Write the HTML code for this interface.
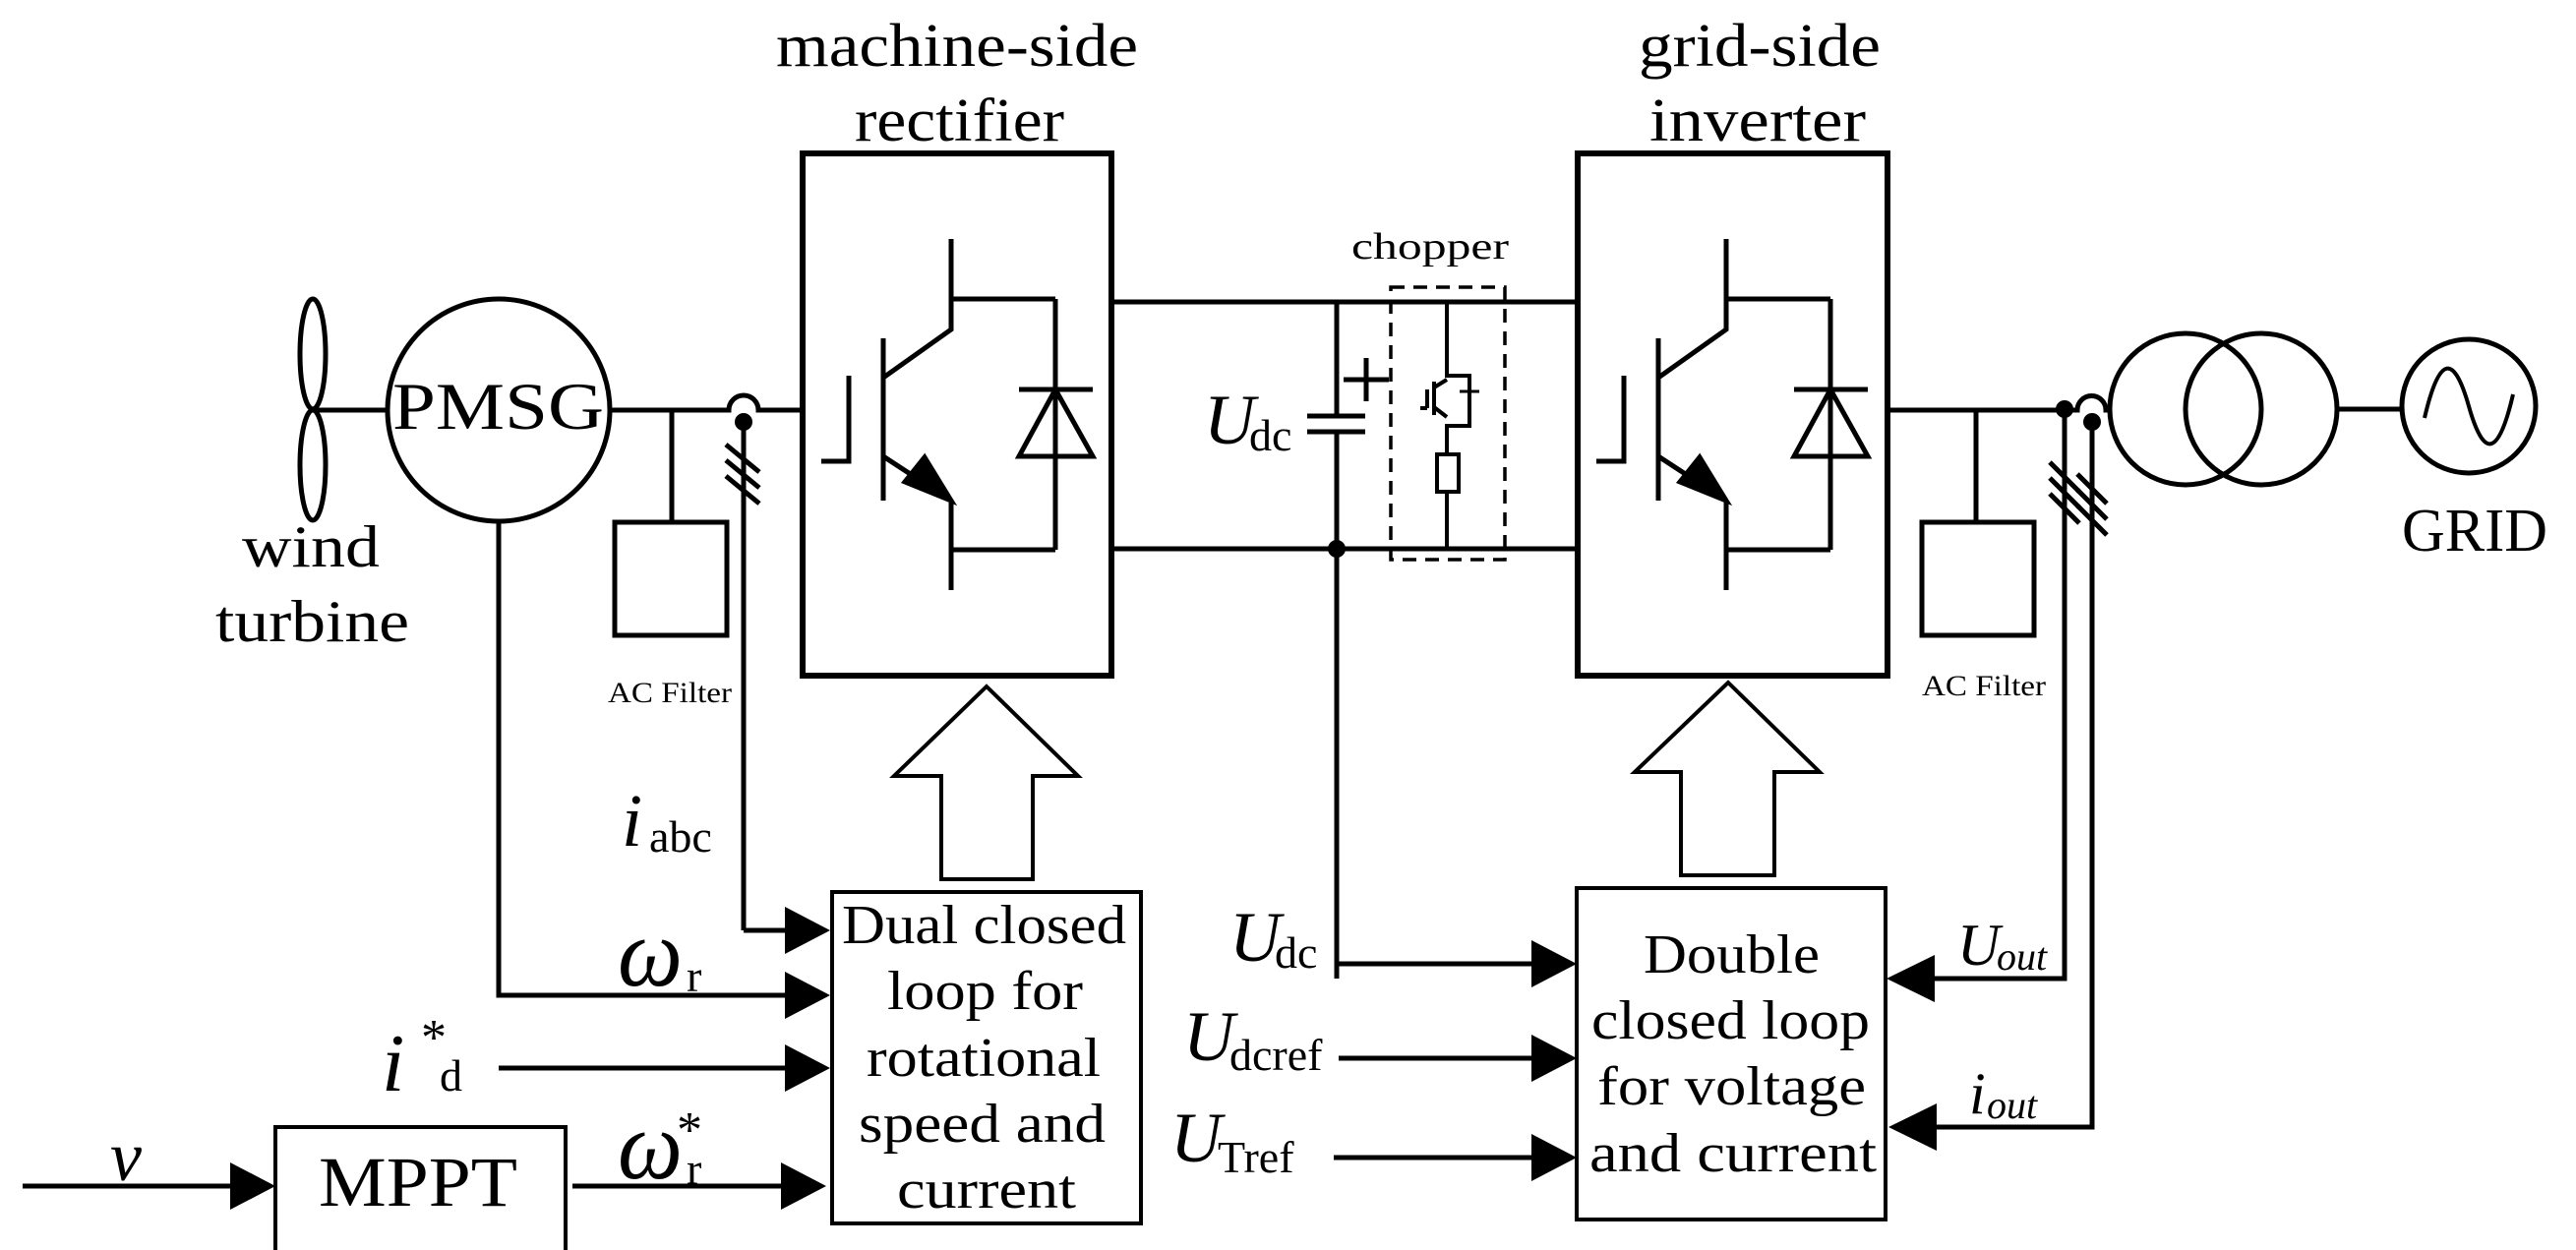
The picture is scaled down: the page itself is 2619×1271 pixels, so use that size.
<!DOCTYPE html>
<html><head><meta charset="utf-8"><style>
html,body{margin:0;padding:0;background:#fff}
svg{display:block}
text{font-family:"Liberation Serif",serif;fill:#000}
</style></head><body>
<svg width="2619" height="1271" viewBox="0 0 2619 1271" xmlns="http://www.w3.org/2000/svg">
<g fill="none" stroke="#000" stroke-width="5">
<ellipse cx="318" cy="360" rx="13" ry="56"/>
<ellipse cx="318" cy="473" rx="13" ry="56"/>
<line x1="318" y1="417" x2="394" y2="417"/>
<circle cx="507" cy="417" r="113"/>
<path d="M620 417 H741 A15 15 0 0 1 771 417 H816"/>
<line x1="683" y1="417" x2="683" y2="531"/>
<rect x="625" y="531" width="114" height="115"/>
<line x1="756" y1="429" x2="756" y2="946"/>
<line x1="756" y1="946" x2="800" y2="946"/>
<line x1="738" y1="452" x2="772" y2="480"/>
<line x1="738" y1="468" x2="772" y2="496"/>
<line x1="738" y1="484" x2="772" y2="512"/>
<polyline points="507,530 507,1012 800,1012"/>
<line x1="507" y1="1086" x2="800" y2="1086"/>
<line x1="582" y1="1206" x2="800" y2="1206"/>
<line x1="23" y1="1206" x2="236" y2="1206"/>
<rect x="816" y="156" width="314" height="531" stroke-width="6"/>
<rect x="1604" y="156" width="315" height="531" stroke-width="6"/>
<line x1="1130" y1="307" x2="1604" y2="307"/>
<line x1="1130" y1="558" x2="1604" y2="558"/>
<line x1="1359" y1="307" x2="1359" y2="423"/>
<line x1="1329" y1="423" x2="1388" y2="423"/>
<line x1="1329" y1="439" x2="1388" y2="439"/>
<line x1="1359" y1="439" x2="1359" y2="995"/>
<line x1="1366" y1="386" x2="1412" y2="386"/>
<line x1="1389" y1="364" x2="1389" y2="408"/>
<line x1="1359" y1="980" x2="1560" y2="980"/>
<line x1="1361" y1="1076" x2="1560" y2="1076"/>
<line x1="1356" y1="1177" x2="1560" y2="1177"/>
<rect x="1414" y="292" width="116" height="277" stroke-dasharray="14,9" stroke-width="3.5"/>
<polyline points="1471,307 1471,382 1494,382 1494,433 1471,433 1471,462" stroke-width="4"/>
<rect x="1461" y="462" width="22" height="38" stroke-width="4"/>
<line x1="1471" y1="500" x2="1471" y2="558" stroke-width="4"/>
<line x1="1458" y1="388" x2="1458" y2="422" stroke-width="4"/>
<line x1="1451" y1="396" x2="1451" y2="415" stroke-width="4"/>
<line x1="1444" y1="415" x2="1451" y2="415" stroke-width="4"/>
<line x1="1458" y1="394" x2="1471" y2="386" stroke-width="4"/>
<line x1="1458" y1="414" x2="1471" y2="424" stroke-width="4"/>
<line x1="1484" y1="398" x2="1504" y2="398" stroke-width="3"/>
<path d="M1919 417 H2112 A14 14 0 0 1 2141 417 H2145"/>
<line x1="2009" y1="417" x2="2009" y2="531"/>
<rect x="1954" y="531" width="114" height="115"/>
<polyline points="2099,416 2099,995 1965,995"/>
<polyline points="2127,429 2127,1146 1965,1146"/>
<line x1="2084" y1="470" x2="2114" y2="500"/>
<line x1="2084" y1="486" x2="2114" y2="516"/>
<line x1="2084" y1="502" x2="2114" y2="532"/>
<line x1="2112" y1="482" x2="2142" y2="512"/>
<line x1="2112" y1="498" x2="2142" y2="528"/>
<line x1="2112" y1="514" x2="2142" y2="544"/>
<circle cx="2222" cy="416" r="77"/>
<circle cx="2299" cy="416" r="77"/>
<line x1="2376" y1="416" x2="2441" y2="416"/>
<circle cx="2510" cy="413" r="68"/>
<path d="M2465 425 C2480 360 2495 360 2510 413 C2525 466 2540 466 2555 401" stroke-width="4"/>
<polygon points="1003,698 1096,789 1050,789 1050,894 957,894 957,789 909,789" stroke-width="4"/>
<polygon points="1757,694 1850,785 1804,785 1804,890 1709,890 1709,785 1662,785" stroke-width="4"/>
<rect x="846" y="907" width="314" height="337" stroke-width="4"/>
<rect x="1603" y="903" width="314" height="337" stroke-width="4"/>
<polyline points="280,1271 280,1146 575,1146 575,1271" stroke-width="4"/>
</g>
<g id="igbt" fill="none" stroke="#000" stroke-width="5">
<polyline points="967,243 967,335 898,384"/>
<line x1="967" y1="304" x2="1073" y2="304"/>
<line x1="1073" y1="304" x2="1073" y2="559"/>
<line x1="967" y1="559" x2="1073" y2="559"/>
<line x1="1036" y1="396" x2="1111" y2="396"/>
<polygon points="1073,396 1111,464 1036,464"/>
<line x1="898" y1="344" x2="898" y2="509"/>
<polyline points="835,469 863,469 863,382"/>
<line x1="898" y1="464" x2="950" y2="498"/>
<polyline points="967,511 967,600"/>
<polygon points="967,509 920,490 940,465" fill="#000"/>
</g>
<use href="#igbt" transform="translate(788,0)"/>
<g fill="#000">
<circle cx="756" cy="429" r="9"/>
<circle cx="1359" cy="558" r="9"/>
<circle cx="2099" cy="416" r="9"/>
<circle cx="2127" cy="429" r="9"/>
<polygon points="798,922 844,946 798,970"/>
<polygon points="798,988 844,1012 798,1036"/>
<polygon points="798,1062 844,1086 798,1110"/>
<polygon points="794,1182 840,1206 794,1230"/>
<polygon points="234,1182 280,1206 234,1230"/>
<polygon points="1557,956 1603,980 1557,1004"/>
<polygon points="1557,1052 1603,1076 1557,1100"/>
<polygon points="1557,1153 1603,1177 1557,1201"/>
<polygon points="1967,971 1918,995 1967,1019"/>
<polygon points="1969,1122 1920,1146 1969,1170"/>
</g>
<text x="789" y="67" font-size="62" textLength="368" lengthAdjust="spacingAndGlyphs">machine-side</text>
<text x="869" y="143" font-size="62" textLength="213" lengthAdjust="spacingAndGlyphs">rectifier</text>
<text x="1666" y="67" font-size="62" textLength="246" lengthAdjust="spacingAndGlyphs">grid-side</text>
<text x="1677" y="143" font-size="62" textLength="220" lengthAdjust="spacingAndGlyphs">inverter</text>
<text x="1374" y="263" font-size="38" textLength="160" lengthAdjust="spacingAndGlyphs">chopper</text>
<text x="399" y="436" font-size="68" textLength="215" lengthAdjust="spacingAndGlyphs">PMSG</text>
<text x="246" y="576" font-size="60" textLength="140" lengthAdjust="spacingAndGlyphs">wind</text>
<text x="219" y="652" font-size="60" textLength="197" lengthAdjust="spacingAndGlyphs">turbine</text>
<text x="2442" y="560" font-size="62" textLength="148" lengthAdjust="spacingAndGlyphs">GRID</text>
<text x="618" y="714" font-size="30" textLength="126" lengthAdjust="spacingAndGlyphs">AC Filter</text>
<text x="1954" y="707" font-size="30" textLength="126" lengthAdjust="spacingAndGlyphs">AC Filter</text>
<text x="324" y="1226" font-size="72" textLength="202" lengthAdjust="spacingAndGlyphs">MPPT</text>
<text x="856" y="959" font-size="56" textLength="289" lengthAdjust="spacingAndGlyphs">Dual closed</text>
<text x="902" y="1026" font-size="56" textLength="199" lengthAdjust="spacingAndGlyphs">loop for</text>
<text x="881" y="1094" font-size="56" textLength="238" lengthAdjust="spacingAndGlyphs">rotational</text>
<text x="873" y="1161" font-size="56" textLength="251" lengthAdjust="spacingAndGlyphs">speed and</text>
<text x="912" y="1228" font-size="56" textLength="182" lengthAdjust="spacingAndGlyphs">current</text>
<text x="1671" y="989" font-size="56" textLength="179" lengthAdjust="spacingAndGlyphs">Double</text>
<text x="1618" y="1056" font-size="56" textLength="283" lengthAdjust="spacingAndGlyphs">closed loop</text>
<text x="1624" y="1123" font-size="56" textLength="273" lengthAdjust="spacingAndGlyphs">for voltage</text>
<text x="1616" y="1191" font-size="56" textLength="292" lengthAdjust="spacingAndGlyphs">and current</text>
<text x="632" y="860" font-size="76" font-style="italic">i</text>
<text x="660" y="866" font-size="46">abc</text>
<text x="628" y="1002" font-size="100" font-style="italic" textLength="66" lengthAdjust="spacingAndGlyphs">ω</text>
<text x="698" y="1008" font-size="46">r</text>
<text x="388" y="1109" font-size="84" font-style="italic">i</text>
<text x="428" y="1072" font-size="52">*</text>
<text x="447" y="1109" font-size="46">d</text>
<text x="628" y="1198" font-size="100" font-style="italic" textLength="66" lengthAdjust="spacingAndGlyphs">ω</text>
<text x="688" y="1166" font-size="52">*</text>
<text x="698" y="1204" font-size="46">r</text>
<text x="112" y="1200" font-size="72" font-style="italic">v</text>
<text x="1224" y="451" font-size="72" font-style="italic">U</text>
<text x="1270" y="458" font-size="46">dc</text>
<text x="1250" y="977" font-size="72" font-style="italic">U</text>
<text x="1296" y="984" font-size="46">dc</text>
<text x="1203" y="1078" font-size="72" font-style="italic">U</text>
<text x="1250" y="1088" font-size="46">dcref</text>
<text x="1190" y="1181" font-size="72" font-style="italic">U</text>
<text x="1238" y="1192" font-size="46">Tref</text>
<text x="1990" y="981" font-size="60" font-style="italic">U</text>
<text x="2030" y="986" font-size="40" font-style="italic">out</text>
<text x="2002" y="1132" font-size="60" font-style="italic">i</text>
<text x="2020" y="1137" font-size="40" font-style="italic">out</text>
</svg>
</body></html>
